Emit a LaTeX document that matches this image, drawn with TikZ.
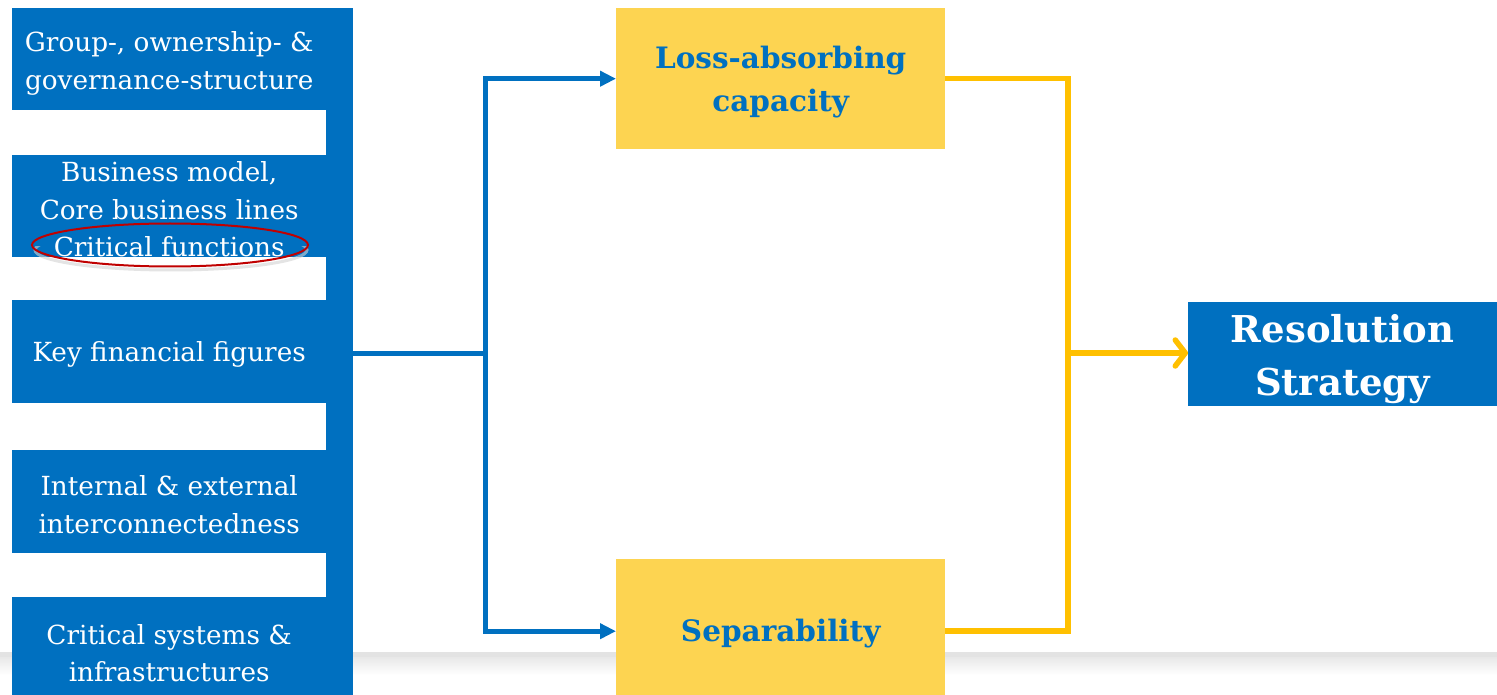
\documentclass[tikz,border=0pt]{standalone}
\usepackage{fontspec}
\setmainfont{DejaVu Serif}
\usetikzlibrary{arrows.meta,shapes.geometric}
\definecolor{eblue}{HTML}{0070C0}
\definecolor{eyel}{HTML}{FDD451}
\definecolor{eline}{HTML}{FFC000}
\definecolor{ered}{HTML}{C00000}
\begin{document}
\begin{tikzpicture}[x=1pt,y=-1pt,
  leftbox/.style={fill=eblue, minimum width=314pt, anchor=north west, inner sep=0pt},
  lefttext/.style={text=white, inner sep=0pt, align=center, font=\fontsize{26.3}{37.5}\selectfont},
  ybox/.style={fill=eyel, minimum width=329pt, anchor=north west, inner sep=0pt},
  ytext/.style={text=eblue, inner sep=0pt, align=center, font=\fontsize{29.5}{43}\selectfont\bfseries},
  bline/.style={draw=eblue, line width=5pt},
  yline/.style={draw=eline, line width=5.5pt},
  barrow/.style={-{Triangle[length=16pt,width=15pt]}},
  yarrow/.style={-{Straight Barb[length=10pt,width=26pt,line width=5.5pt,round]}}
]
\useasboundingbox (0,0) rectangle (1497,695);
\fill[white] (0,0) rectangle (1497,695);
% slide shadow band
\fill[gray!22] (0,652) rectangle (1497,657);
\shade[top color=gray!18, bottom color=white] (0,657) rectangle (1497,675);

% left stack
\node[fill=eblue, minimum width=27pt, minimum height=700pt, anchor=north west, inner sep=0pt] (strip) at (326,8) {};
\node[leftbox, minimum height=102pt] (b1) at (12,8) {};
\node[leftbox, minimum height=102pt] (b2) at (12,155) {};
\node[leftbox, minimum height=103pt] (b3) at (12,300) {};
\node[leftbox, minimum height=103pt] (b4) at (12,450) {};
\node[leftbox, minimum height=106pt] (b5) at (12,597) {};
\node[lefttext] (t1) at ([yshift=-4pt]b1.center) {Group-, ownership- \&\\governance-structure};
\node[lefttext] (t2) at ([yshift=-3pt]b2.center) {Business model,\\Core business lines\\Critical functions};
\node[lefttext] (t3) at ([yshift=-3pt]b3.center) {Key financial figures};
\node[lefttext] (t4) at ([yshift=-3pt]b4.center) {Internal \& external\\interconnectedness};
\node[lefttext] (t5) at ([yshift=-3pt]b5.center) {Critical systems \&\\infrastructures};

% highlight ellipse
\begin{scope}
\clip (0,247) rectangle (400,300);
\node[ellipse, draw=gray!35, line width=3pt, opacity=0.6, minimum width=272pt, minimum height=40pt, inner sep=0pt] (hlshadow) at (171,250) {};
\end{scope}
\node[ellipse, draw=ered, line width=2pt, minimum width=276pt, minimum height=43pt, inner sep=0pt] (hl) at (170,245) {};

% yellow boxes
\node[ybox, minimum height=141pt] (loss) at (616,8) {};
\node[ybox, minimum height=144pt] (sep) at (616,559) {};
\node[ytext] (lt) at ([yshift=-3pt]loss.center) {Loss-absorbing\\capacity};
\node[ytext] (st) at ([yshift=-2pt]sep.center) {Separability};

% resolution
\node[fill=eblue, minimum width=309pt, minimum height=104pt, anchor=north west, inner sep=0pt] (res) at (1188,302) {};
\node[text=white, inner sep=0pt, align=center, font=\fontsize{37}{53}\selectfont\bfseries] (rt) at ([yshift=-5pt]res.center) {Resolution\\Strategy};

% connectors
\coordinate (jb) at (485,353);
\coordinate (jy) at (1068,353);
\draw[bline] (strip.east |- jb) -- (jb);
\draw[bline, barrow] (jb) |- (loss.west);
\draw[bline, barrow] (jb) |- (sep.west);
\draw[yline] (loss.east) -| (jy) |- (sep.east);
\draw[yline, yarrow] (jy) -- (jy -| res.west);
\end{tikzpicture}
\end{document}
